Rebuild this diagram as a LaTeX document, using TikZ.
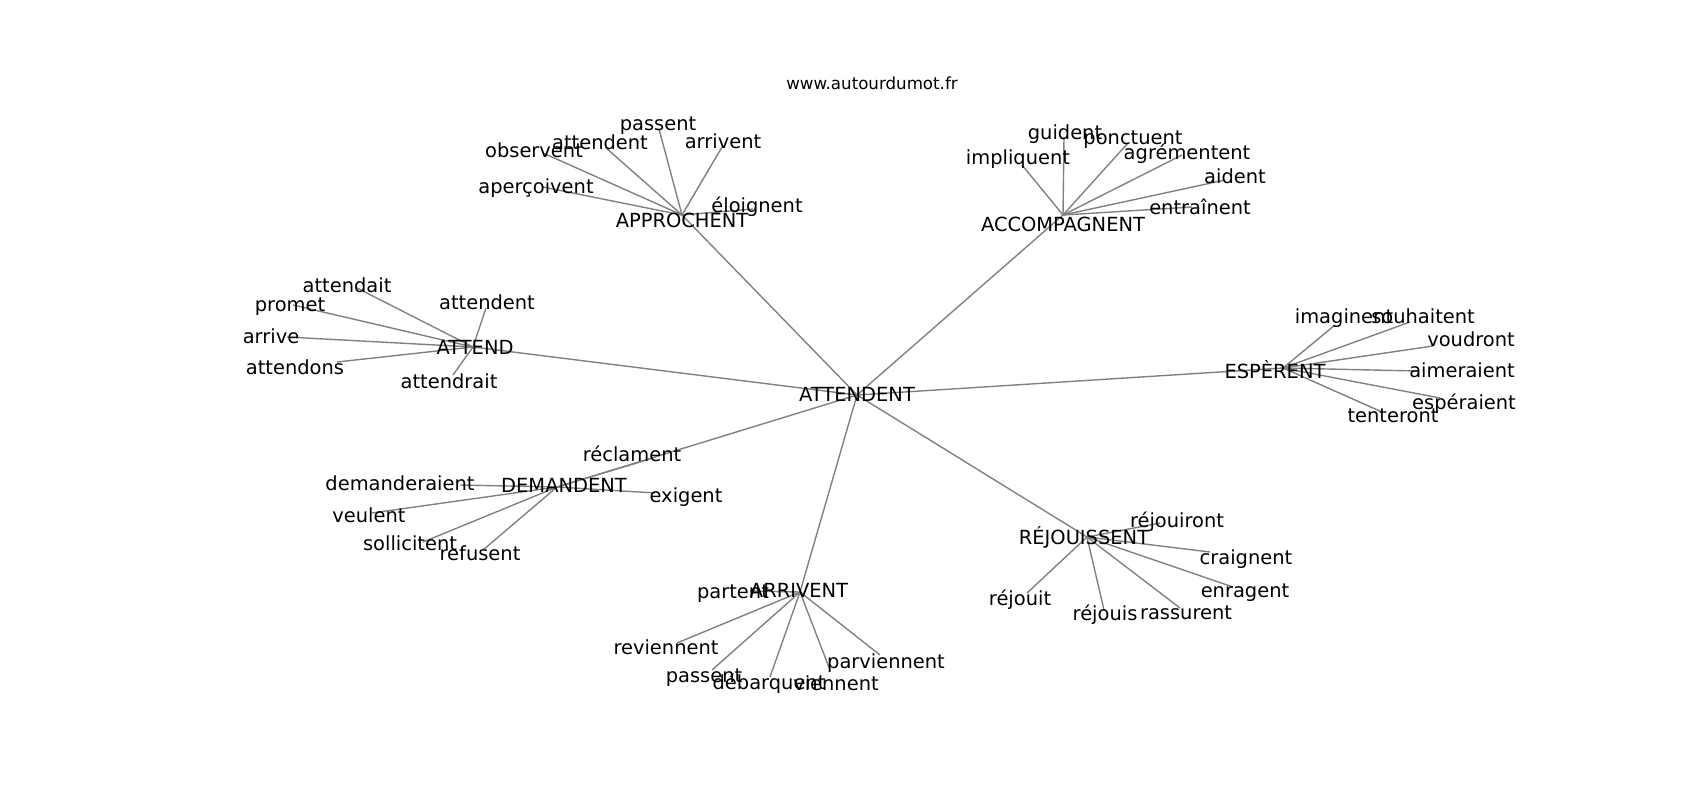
\documentclass[tikz,border=0pt]{standalone}
\usepackage{fontspec}
\setmainfont{DejaVu Sans}
\usetikzlibrary{positioning}
\definecolor{linkgray}{RGB}{128,128,128}
\tikzset{
  word/.style = {inner sep=0pt, text height=0.76em, text depth=0.24em, yshift=-3pt, font=\fontsize{14}{16}\selectfont},
  sitename/.style = {inner sep=0pt, font=\fontsize{12}{14}\selectfont},
  link/.style = {draw=linkgray, line width=1pt}
}

\begin{document}
\begin{tikzpicture}[x=0.72pt, y=-0.72pt]
  \useasboundingbox (0,0) rectangle (1700,800);
  \node [sitename] (site) at (872,83) {www.autourdumot.fr};
  % vertices: name / edge point / label point / text
  \foreach \n/\ex/\ey/\lx/\ly/\t in {
      hub/857/395/857/394/ATTENDENT,
      appr/682/215/682/220/APPROCHENT, acco/1063/215/1063/224/ACCOMPAGNENT,
      attend/473/347/475/347/ATTEND, espe/1283/368/1275/371/ESPÈRENT,
      dema/557/487/564/485/DEMANDENT, arri/800/592/799/590/ARRIVENT,
      rejo/1087/537/1084/537/RÉJOUISSENT,
      a1/659/129/658/123/passent, a2/605/147/600/142/attendent,
      a3/543/153/534/150/observent, a4/722/147/723/141/arrivent,
      a5/543/187/536/186/aperçoivent, a6/753/209/757/205/éloignent,
      c1/1064/137/1065/132/guident, c2/1128/143/1133/137/ponctuent,
      c3/1022/165/1018/157/impliquent, c4/1182/155/1187/152/agrémentent,
      c5/1225/180/1235/176/aident, c6/1192/207/1200/207/entraînent,
      t1/357/288/347/285/attendait, t2/293/305/290/304/promet,
      t3/287/337/271/336/arrive, t4/337/362/295/367/attendons,
      t5/486/308/487/302/attendent, t6/453/375/449/381/attendrait,
      s1/1335/325/1344/316/imaginent, s2/1410/322/1423/316/souhaitent,
      s3/1433/346/1471/339/voudront, s4/1417/371/1462/370/aimeraient,
      s5/1440/398/1464/402/espéraient, s6/1382/412/1393/415/tenteront,
      d1/650/459/632/454/réclament, d2/460/485/400/483/demanderaient,
      d3/372/513/369/515/veulent, d4/423/542/410/543/sollicitent,
      d5/483/550/480/553/refusent, d6/655/493/686/495/exigent,
      r1/750/591/733/591/partent, r2/677/643/666/647/reviennent,
      r3/712/670/704/675/passent, r4/770/677/769/682/débarquent,
      r5/830/670/836/683/viennent, r6/880/655/886/661/parviennent,
      j1/1160/523/1177/520/réjouiront, j2/1210/552/1246/557/craignent,
      j3/1233/587/1245/590/enragent, j4/1180/608/1186/612/rassurent,
      j5/1104/610/1105/613/réjouis, j6/1027/593/1020/598/réjouit}
    {
      \coordinate (\n) at (\ex,\ey);
      \coordinate (\n-text) at (\lx,\ly);
    }
  % connectors
  \foreach \a/\b in {hub/appr, hub/acco, hub/attend, hub/espe, hub/dema, hub/arri, hub/rejo,
      appr/a1, appr/a2, appr/a3, appr/a4, appr/a5, appr/a6,
      acco/c1, acco/c2, acco/c3, acco/c4, acco/c5, acco/c6,
      attend/t1, attend/t2, attend/t3, attend/t4, attend/t5, attend/t6,
      espe/s1, espe/s2, espe/s3, espe/s4, espe/s5, espe/s6,
      dema/d1, dema/d2, dema/d3, dema/d4, dema/d5, dema/d6,
      arri/r1, arri/r2, arri/r3, arri/r4, arri/r5, arri/r6,
      rejo/j1, rejo/j2, rejo/j3, rejo/j4, rejo/j5, rejo/j6}
    \draw [link] (\a) -- (\b);
  % labels on top
  \foreach \n/\t in {hub/ATTENDENT, appr/APPROCHENT, acco/ACCOMPAGNENT, attend/ATTEND,
      espe/ESPÈRENT, dema/DEMANDENT, arri/ARRIVENT, rejo/RÉJOUISSENT,
      a1/passent, a2/attendent, a3/observent, a4/arrivent, a5/aperçoivent, a6/éloignent,
      c1/guident, c2/ponctuent, c3/impliquent, c4/agrémentent, c5/aident, c6/entraînent,
      t1/attendait, t2/promet, t3/arrive, t4/attendons, t5/attendent, t6/attendrait,
      s1/imaginent, s2/souhaitent, s3/voudront, s4/aimeraient, s5/espéraient, s6/tenteront,
      d1/réclament, d2/demanderaient, d3/veulent, d4/sollicitent, d5/refusent, d6/exigent,
      r1/partent, r2/reviennent, r3/passent, r4/débarquent, r5/viennent, r6/parviennent,
      j1/réjouiront, j2/craignent, j3/enragent, j4/rassurent, j5/réjouis, j6/réjouit}
    \node [word] (\n-label) at (\n-text) {\t};
\end{tikzpicture}
\end{document}
